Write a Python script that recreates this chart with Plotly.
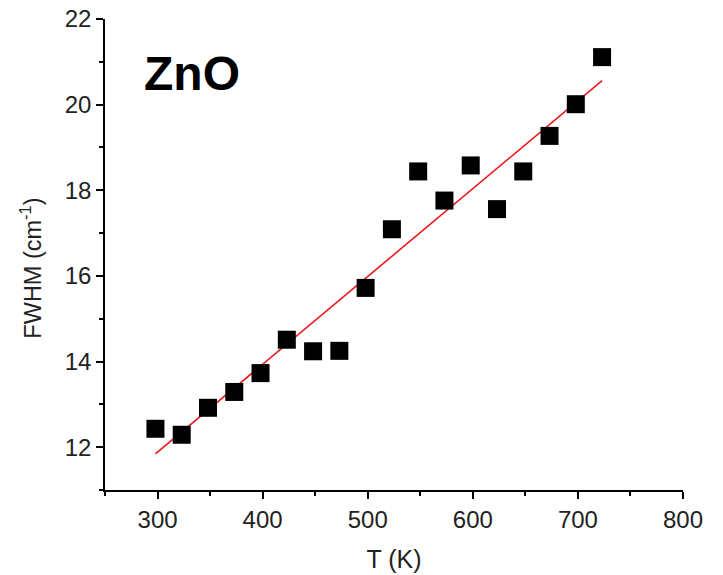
import numpy as np
import plotly.graph_objects as go

T_K = [298, 323, 348, 373, 398, 423, 448, 473, 498, 523, 548, 573, 598, 623, 648, 673, 698, 723]
FWHM = [12.43, 12.29, 12.92, 13.29, 13.73, 14.51, 14.24, 14.25, 15.72, 17.09,
        18.44, 17.76, 18.58, 17.56, 18.44, 19.27, 20.01, 21.11]
x_ticks = [300, 400, 500, 600, 700, 800]
y_ticks = [12, 14, 16, 18, 20, 22]

coef = np.polyfit(T_K, FWHM, 1)
fit_x = [min(T_K), max(T_K)]
fit_y = list(np.polyval(coef, fit_x))

fig = go.Figure()
fig.add_trace(go.Scatter(x=fit_x, y=fit_y, mode="lines",
                         line=dict(color="#e8191c", width=1.6), showlegend=False))
fig.add_trace(go.Scatter(x=T_K, y=FWHM, mode="markers",
                         marker=dict(symbol="square", size=18, color="black",
                                     line=dict(width=0)), showlegend=False))

font = "Liberation Sans, Arial, sans-serif"
axis_common = dict(showgrid=False, zeroline=False, showline=True, linecolor="black",
                   linewidth=1.5, ticks="outside", ticklen=7, tickwidth=1.5,
                   tickcolor="black", automargin=False,
                   tickfont=dict(family=font, size=24, color="#222"))

fig.update_layout(
    width=723, height=575,
    margin=dict(l=105, r=40, t=19, b=85),
    paper_bgcolor="white", plot_bgcolor="white",
    xaxis=dict(range=[250, 800], tickvals=x_ticks,
               minor=dict(dtick=50, tick0=250, ticks="outside", ticklen=4,
                          tickwidth=1.5, tickcolor="black"),
               title=dict(text="T (K)", font=dict(family=font, size=25, color="#222"),
                          standoff=19),
               **axis_common),
    yaxis=dict(range=[11, 22], tickvals=y_ticks,
               minor=dict(dtick=1, tick0=11, ticks="outside", ticklen=4,
                          tickwidth=1.5, tickcolor="black"),
               **axis_common),
    annotations=[
        dict(text="FWHM (cm<sup>-1</sup>)", xref="paper", yref="paper",
             x=-0.128, y=0.47, textangle=-90, showarrow=False,
             font=dict(family=font, size=23.5, color="#222"), xanchor="center", yanchor="middle"),
        dict(text="<b>ZnO</b>", xref="paper", yref="paper", x=0.151, y=0.885,
             showarrow=False, font=dict(family=font, size=48, color="black"),
             xanchor="center", yanchor="middle"),
    ],
)

fig.write_html("out.html", config={"displayModeBar": False},
               post_script="document.body.style.margin='0';")
